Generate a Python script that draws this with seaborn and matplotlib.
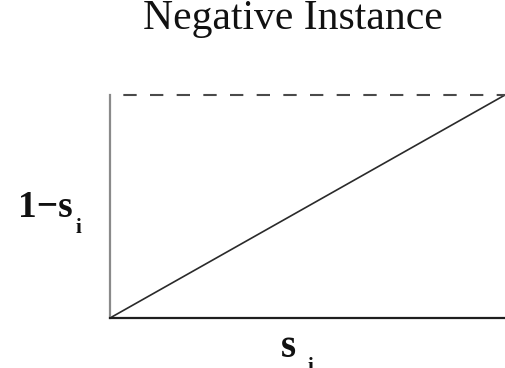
import matplotlib
matplotlib.use("Agg")
import matplotlib.pyplot as plt
import seaborn as sns

# Score s_i on the horizontal axis, loss 1 - s_i drawn against it
s_vals = [0.0, 1.0]
loss_vals = [0.0, 1.0]
upper_vals = [1.0, 1.0]

title_text = "Negative Instance"
ylabel_main, ylabel_sub = "1\u2212s", "i"
xlabel_main, xlabel_sub = "s", "i"

sns.set_style("white")
plt.rcParams["font.family"] = ["Liberation Serif", "DejaVu Serif"]
plt.rcParams["lines.scale_dashes"] = False

W, H = 505, 368
fig = plt.figure(figsize=(W / 100, H / 100), dpi=100)
ax = fig.add_axes([110 / W, 1 - 318 / H, (W - 110) / W, (318 - 95) / H])

sns.lineplot(x=s_vals, y=loss_vals, ax=ax, color="#2a2a2a", linewidth=1.2,
             clip_on=False)
sns.lineplot(x=s_vals, y=upper_vals, ax=ax, color="#4a4a4a", linewidth=1.5,
             linestyle=(9.6, (9.6, 9.6)), clip_on=False)

ax.set_xlim(0, 1)
ax.set_ylim(0, 1)
ax.set_xticks([])
ax.set_yticks([])
ax.set_xlabel("")
ax.set_ylabel("")
for side in ("top", "right"):
    ax.spines[side].set_visible(False)
ax.spines["left"].set_color("#8a8a8a")
ax.spines["left"].set_linewidth(1.6)
ax.spines["bottom"].set_color("#1e1e1e")
ax.spines["bottom"].set_linewidth(1.6)

def px(x, y):
    return x / W, 1 - y / H

fig.text(*px(292.5, 29), title_text, fontsize=30, ha="center", va="baseline",
         color="#111111")

fig.text(*px(18, 217), ylabel_main, fontsize=27, fontweight="bold",
         ha="left", va="baseline", color="#111111")
fig.text(*px(76, 233), ylabel_sub, fontsize=15, fontweight="bold",
         ha="left", va="baseline", color="#111111")

fig.text(*px(281, 357), xlabel_main, fontsize=28, fontweight="bold",
         ha="left", va="baseline", color="#111111")
fig.text(*px(308, 372), xlabel_sub, fontsize=15, fontweight="bold",
         ha="left", va="baseline", color="#111111")

fig.savefig("out.png", dpi=100)
